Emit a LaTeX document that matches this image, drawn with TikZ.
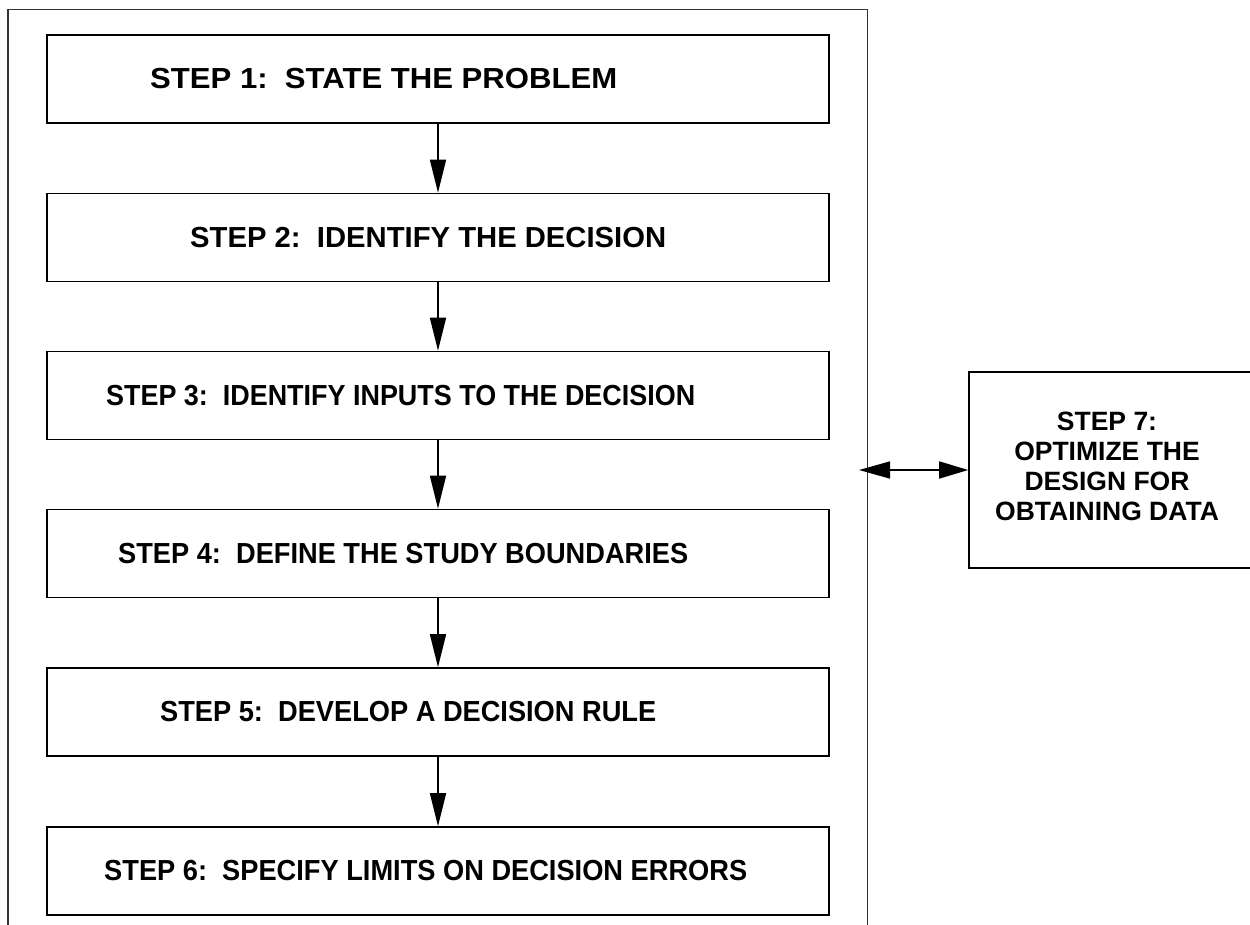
\documentclass[tikz,border=0pt]{standalone}
\usepackage{fontspec}
\setmainfont{Liberation Sans}
\usetikzlibrary{arrows.meta}
\begin{document}
\begin{tikzpicture}[x=1pt,y=-1pt,
  stepbox/.style={draw=black,line width=1.6pt,minimum width=782pt,minimum height=88pt,inner sep=0pt},
  steptext/.style={anchor=west,inner sep=0pt,font=\fontsize{29}{30}\selectfont\bfseries},
  sidebox/.style={draw=black,line width=1.6pt,minimum width=300pt,minimum height=196pt,inner sep=0pt},
  sidetext/.style={align=center,inner sep=0pt,font=\fontsize{26.5}{30}\selectfont\bfseries},
  frame/.style={draw=black!80,line width=1.8pt},
  arr/.style={line width=1.5pt,-{Triangle[length=33pt,width=16pt]}},
  darr/.style={line width=1.5pt,{Triangle[length=31pt,width=17pt]}-{Triangle[length=29pt,width=17pt]}}]
\useasboundingbox (0,0) rectangle (1250,924);
\clip (0,0) rectangle (1250,924);
\draw[frame] (8,9.5) rectangle (867.5,940);
\node[stepbox] (b1) at (438,79) {};
\node[stepbox] (b2) at (438,237.5) {};
\node[stepbox] (b3) at (438,395.5) {};
\node[stepbox] (b4) at (438,553.5) {};
\node[stepbox] (b5) at (438,712) {};
\node[stepbox] (b6) at (438,871) {};
\node[steptext] (t1) at (150,79) {\resizebox{467pt}{\height}{STEP 1:\ \ STATE THE PROBLEM}};
\node[steptext] (t2) at (190,237.5) {\resizebox{476pt}{\height}{STEP 2:\ \ IDENTIFY THE DECISION}};
\node[steptext] (t3) at (106,395.5) {\resizebox{589pt}{\height}{STEP 3:\ \ IDENTIFY INPUTS TO THE DECISION}};
\node[steptext] (t4) at (118,553.5) {\resizebox{570pt}{\height}{STEP 4:\ \ DEFINE THE STUDY BOUNDARIES}};
\node[steptext] (t5) at (160,712) {\resizebox{496pt}{\height}{STEP 5:\ \ DEVELOP A DECISION RULE}};
\node[steptext] (t6) at (104,871) {\resizebox{643pt}{\height}{STEP 6:\ \ SPECIFY LIMITS ON DECISION ERRORS}};
\draw[arr] (b1.south) -- (b2.north);
\draw[arr] (b2.south) -- (b3.north);
\draw[arr] (b3.south) -- (b4.north);
\draw[arr] (b4.south) -- (b5.north);
\draw[arr] (b5.south) -- (b6.north);
\node[sidebox] (b7) at (1119,470) {};
\node[sidetext] (t7) at (1107,466) {STEP 7:\\OPTIMIZE THE\\DESIGN FOR\\OBTAINING DATA};
\coordinate (c7) at (859,470);
\draw[darr] (c7) -- (b7.west);
\end{tikzpicture}
\end{document}
